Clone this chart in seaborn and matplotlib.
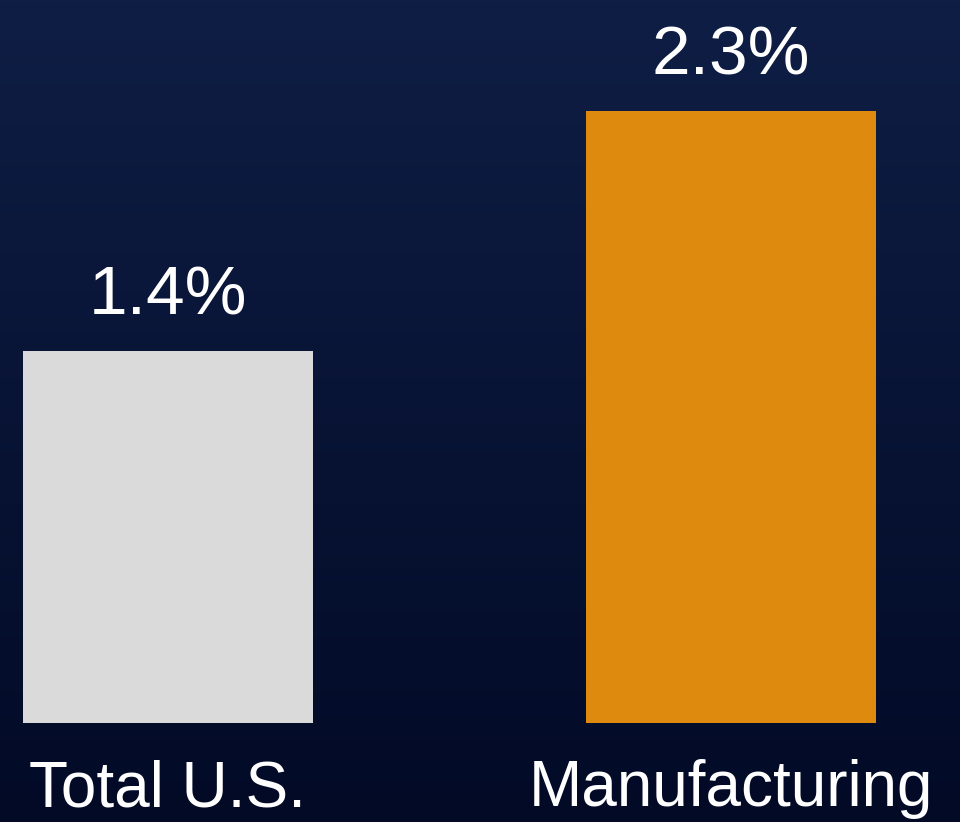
import numpy as np
import pandas as pd
import seaborn as sns
import matplotlib
matplotlib.use("Agg")
import matplotlib.pyplot as plt

categories = ["Total U.S.", "Manufacturing"]
values = [1.4, 2.3]
value_labels = ["1.4%", "2.3%"]
bar_colors = ["#dadada", "#de8a0f"]

df = pd.DataFrame({"cat": categories, "val": values})

sns.set_style("white")
plt.rcParams["font.family"] = ["Liberation Sans", "DejaVu Sans"]

fig = plt.figure(figsize=(9.6, 8.22), dpi=100)

# background gradient (dark navy)
bg = fig.add_axes([0, 0, 1, 1])
grad = np.linspace(0, 1, 256).reshape(-1, 1)
cmap = matplotlib.colors.LinearSegmentedColormap.from_list("bg", ["#0f1e45", "#020a26"])
bg.imshow(grad, aspect="auto", cmap=cmap, extent=[0, 1, 0, 1])
bg.axis("off")

ax = fig.add_axes([0, 99 / 822, 1, 723 / 822])
ax.patch.set_alpha(0)
sns.barplot(data=df, x="cat", y="val", hue="cat", palette=bar_colors,
            width=0.515, legend=False, ax=ax, saturation=1, linewidth=0)
ax.set_xlim(-0.298, 1.407)
ax.set_ylim(0, 2.718)
for c, lab in zip(ax.containers, value_labels):
    ax.bar_label(c, labels=[lab], padding=16, fontsize=50, color="white")

ax.set_xlabel(""); ax.set_ylabel("")
ax.set_yticks([])
ax.tick_params(axis="x", length=0, pad=26, labelsize=46, labelcolor="white")
sns.despine(ax=ax, left=True, bottom=True)

fig.savefig("out.png", dpi=100)
